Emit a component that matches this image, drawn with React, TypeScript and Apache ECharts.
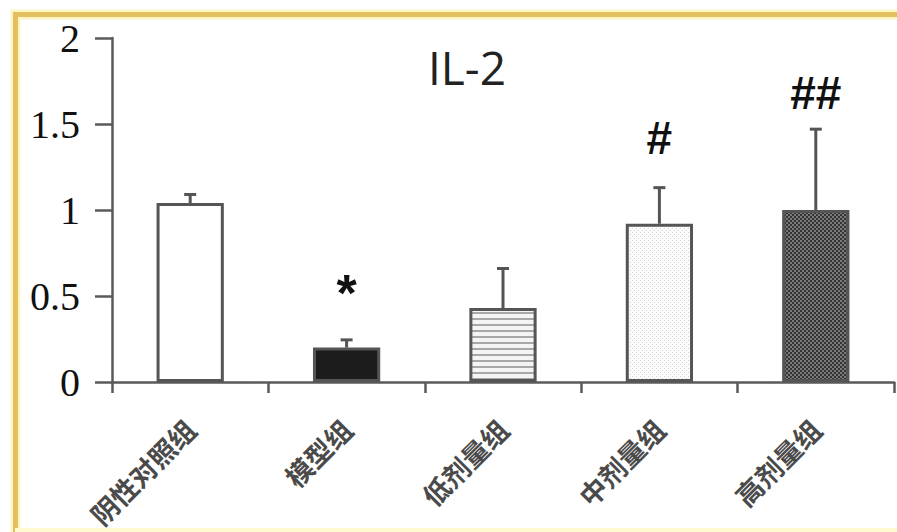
import React, { useEffect, useRef } from "react";
import * as echarts from "echarts";

const categories = ["阴性对照组", "模型组", "低剂量组", "中剂量组", "高剂量组"];
const means = [1.04, 0.2, 0.43, 0.92, 1.0];
const errors = [0.05, 0.045, 0.23, 0.21, 0.47];
const marks = ["", "*", "", "#", "##"];
const markValues = [0, 0.52, 0, 1.42, 1.68];
const yTicks = [0, 0.5, 1, 1.5, 2];
const titleText = "IL-2";

function makePattern(kind: string): any {
  const c = document.createElement("canvas");
  let w = 6, h = 6;
  if (kind === "stripes") { w = 6; h = 6; }
  if (kind === "dots") { w = 4; h = 4; }
  if (kind === "checker") { w = 4; h = 4; }
  c.width = w; c.height = h;
  const ctx = c.getContext("2d")!;
  if (kind === "stripes") {
    ctx.fillStyle = "#f4f4f4"; ctx.fillRect(0, 0, w, h);
    ctx.fillStyle = "#a8a8a8"; ctx.fillRect(0, 0, w, 2);
  } else if (kind === "dots") {
    ctx.fillStyle = "#fbfbfb"; ctx.fillRect(0, 0, w, h);
    ctx.fillStyle = "#d4d4d4"; ctx.fillRect(0, 0, 1, 1); ctx.fillRect(2, 2, 1, 1);
  } else if (kind === "checker") {
    ctx.fillStyle = "#343434"; ctx.fillRect(0, 0, w, h);
    ctx.fillStyle = "#7a7a7a"; ctx.fillRect(0, 0, 2, 2); ctx.fillRect(2, 2, 2, 2);
  }
  return { image: c, repeat: "repeat", imageWidth: w, imageHeight: h };
}

export default function App() {
  const ref = useRef<HTMLDivElement>(null);
  useEffect(() => {
    if (!ref.current) return;
    const chart = echarts.init(ref.current, null, { renderer: "svg" });
    const fills = ["#ffffff", "#1c1c1c", makePattern("stripes"), makePattern("dots"), makePattern("checker")];
    const axisColor = "#5a5a5a";
    chart.setOption({
      animation: false,
      backgroundColor: "#ffffff",
      grid: { left: 112, right: 3, top: 38, bottom: 150, containLabel: false, outerBoundsMode: "none" },
      graphic: [
        { type: "rect", z: 100, silent: true, shape: { x: 15.5, y: 14.5, width: 1000, height: 1000 }, style: { fill: "none", stroke: "#fdf5c2", lineWidth: 10 } },
        { type: "rect", z: 101, silent: true, shape: { x: 15.5, y: 14.5, width: 1000, height: 1000 }, style: { fill: "none", stroke: "#e3bf5f", lineWidth: 5 } },
        { type: "line", z: 101, silent: true, shape: { x1: 15, y1: 530, x2: 897, y2: 530 }, style: { stroke: "#fffad0", lineWidth: 4 } },
        { type: "text", z: 50, x: 467, y: 67, style: { text: titleText, font: "46px 'Open Sans'", fill: "#222", textAlign: "center", textVerticalAlign: "middle" } },
      ],
      xAxis: {
        type: "category",
        data: categories,
        axisLine: { lineStyle: { color: axisColor, width: 2.5 } },
        axisTick: { show: true, length: 11, lineStyle: { color: axisColor, width: 2.5 } },
        axisLabel: { rotate: 45, margin: 42, fontSize: 27, fontWeight: "bold", fontFamily: "'Noto Sans CJK SC'", color: "#4a4a4a", interval: 0 },
      },
      yAxis: {
        type: "value",
        min: 0,
        max: 2,
        interval: 0.5,
        splitLine: { show: false },
        axisLine: { show: true, lineStyle: { color: axisColor, width: 2.5 } },
        axisTick: { show: true, length: 17, lineStyle: { color: axisColor, width: 2.5 } },
        axisLabel: {
          margin: 32, fontSize: 40, fontFamily: "'Liberation Serif', 'Times New Roman', serif", color: "#111",
          formatter: (v: number) => (yTicks.includes(v) ? String(v) : ""),
        },
      },
      series: [
        {
          type: "custom",
          z: 1,
          data: means.map((m, i) => [i, m, errors[i]]),
          renderItem: (params: any, api: any) => {
            const i = api.value(0), m = api.value(1), e = api.value(2);
            const b = api.coord([i, m]);
            const t = api.coord([i, m + e]);
            const half = 6;
            return {
              type: "group",
              children: [
                { type: "line", shape: { x1: b[0], y1: b[1], x2: t[0], y2: t[1] }, style: { stroke: "#555", lineWidth: 3 } },
                { type: "line", shape: { x1: t[0] - half, y1: t[1], x2: t[0] + half, y2: t[1] }, style: { stroke: "#555", lineWidth: 3 } },
              ],
            };
          },
        },
        {
          type: "bar",
          z: 2,
          barWidth: "43%",
          data: means.map((m, i) => ({ value: m, itemStyle: { color: fills[i], borderColor: "#555", borderWidth: 3 } })),
        },
        {
          type: "custom",
          z: 3,
          data: markValues.map((v, i) => [i, v]),
          renderItem: (params: any, api: any) => {
            const i = params.dataIndex;
            if (!marks[i]) return null;
            const p = api.coord([api.value(0), api.value(1)]);
            const isStar = marks[i] === "*";
            return {
              type: "text",
              x: p[0],
              y: p[1],
              style: { text: marks[i], font: isStar ? "bold 52px 'Liberation Sans'" : "bold 46px 'Liberation Sans'", fill: "#111", textAlign: "center", textVerticalAlign: "middle" },
            };
          },
        },
      ],
    });
    return () => chart.dispose();
  }, []);
  return <div ref={ref} style={{ position: "fixed", left: 0, top: 0, width: 897, height: 532 }} />;
}
